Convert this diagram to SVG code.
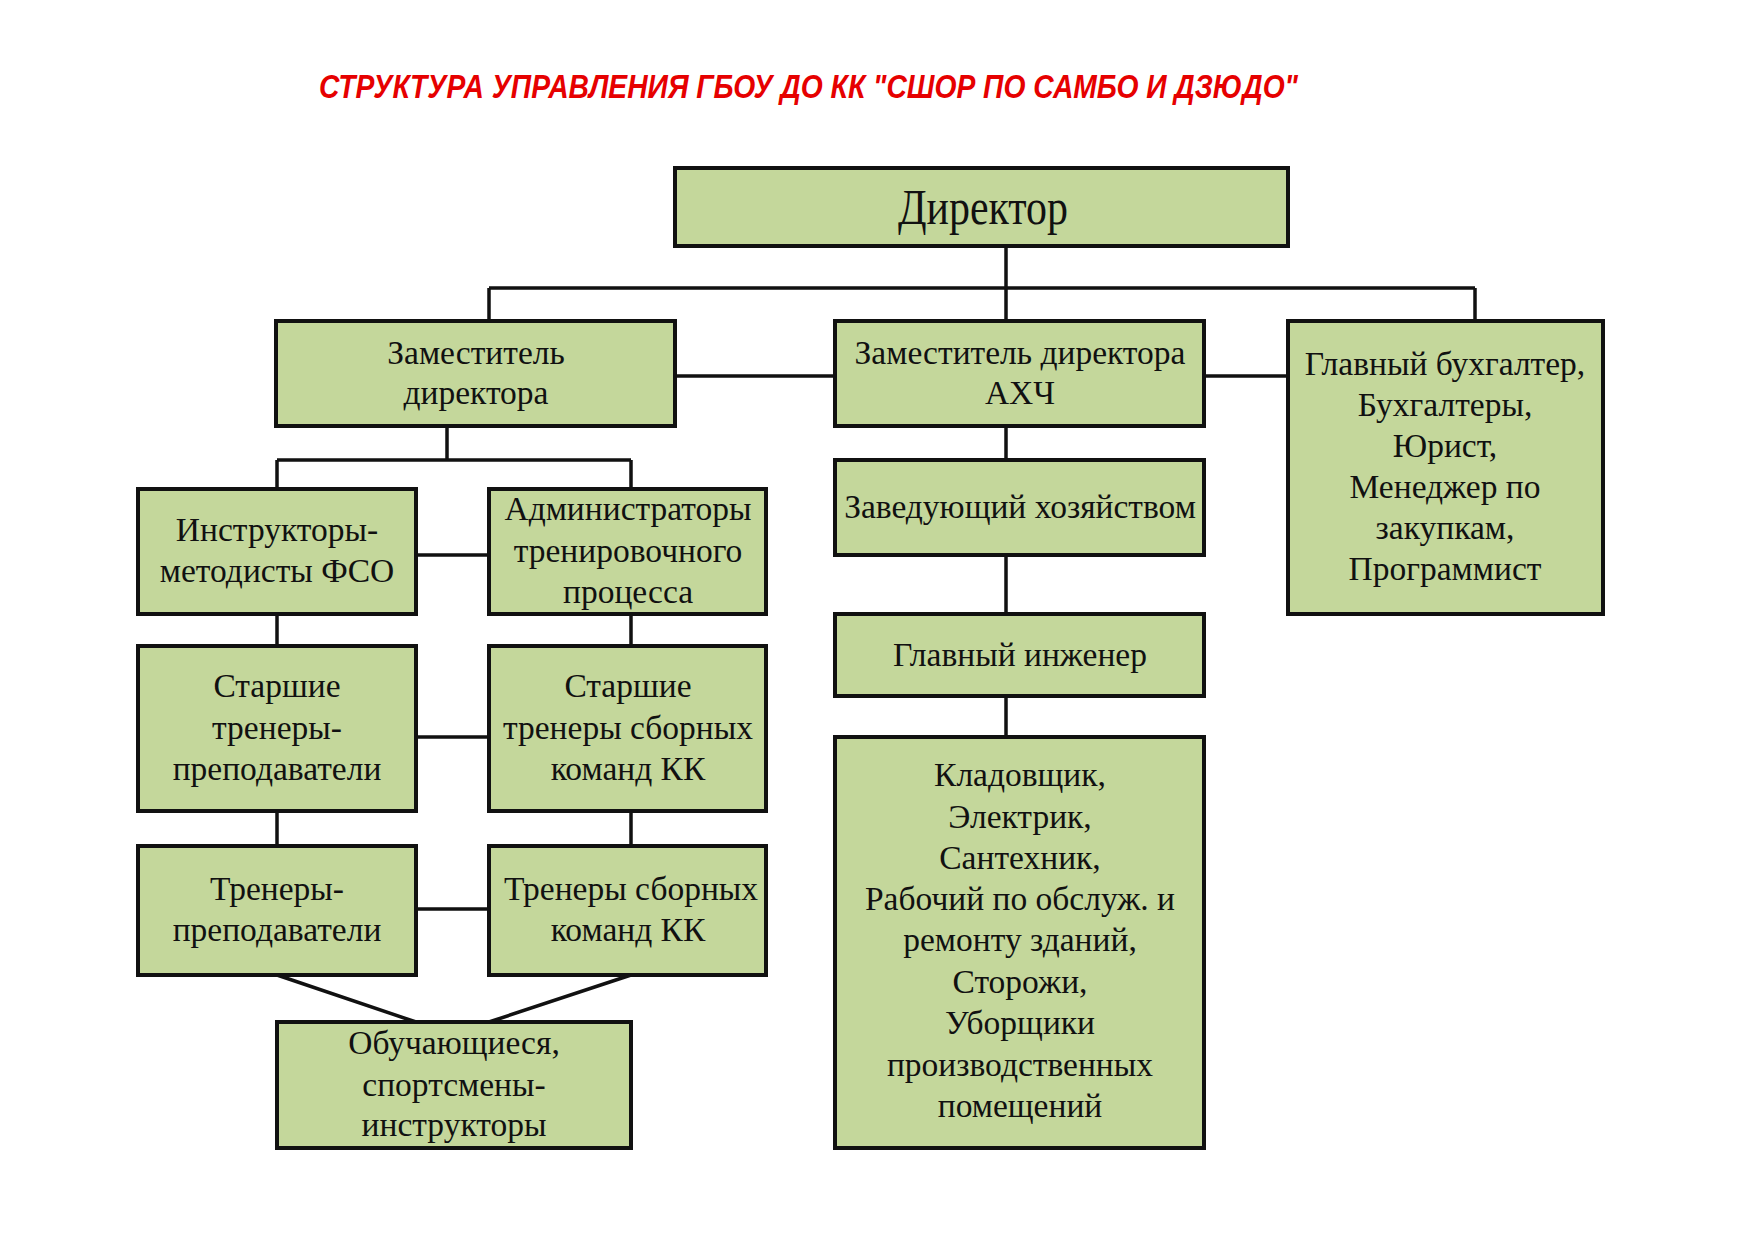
<svg xmlns="http://www.w3.org/2000/svg" width="1755" height="1241" viewBox="0 0 1755 1241">
<style>
.box{fill:#c4d79b;stroke:#111;stroke-width:4}
.t{font-family:"Liberation Serif","Times New Roman",serif;font-size:33.5px;fill:#111;text-anchor:middle}
.big{font-size:50px}
.ln{stroke:#111;stroke-width:3.5;fill:none}
</style>
<rect width="1755" height="1241" fill="#fff"/>
<text x="319" y="98" font-family="Liberation Sans, Arial, sans-serif" font-size="33" font-weight="bold" font-style="italic" fill="#e60000" textLength="979" lengthAdjust="spacingAndGlyphs">СТРУКТУРА УПРАВЛЕНИЯ ГБОУ ДО КК "СШОР ПО САМБО И ДЗЮДО"</text>
<g id="connectors">
<path class="ln" d="M1006 246V321M489 288H1475M489 288V321M1475 288V321"/>
<path class="ln" d="M675 376H835M1204 376H1288"/>
<path class="ln" d="M447 426V460M277 460H631M277 460V489M631 460V489"/>
<path class="ln" d="M416 555H489M277 614V646M631 614V646M416 737H489M277 811V846M631 811V846M416 909H489"/>
<path class="ln" d="M277 975L416 1022M631 975L489 1022"/>
<path class="ln" d="M1006 426V460M1006 555V614M1006 696V737"/>
</g>
<g id="director"><rect class="box" x="675" y="168" width="613" height="78"/><text class="t big" x="983" y="224" textLength="170" lengthAdjust="spacingAndGlyphs">Директор</text></g>
<g id="deputy"><rect class="box" x="276" y="321" width="399" height="105"/><text class="t" x="476" y="364">Заместитель</text><text class="t" x="476" y="404">директора</text></g>
<g id="deputy-ahch"><rect class="box" x="835" y="321" width="369" height="105"/><text class="t" x="1020" y="364">Заместитель директора</text><text class="t" x="1020" y="404">АХЧ</text></g>
<g id="accounting"><rect class="box" x="1288" y="321" width="315" height="293"/>
<text class="t" x="1445" y="375">Главный бухгалтер,</text><text class="t" x="1445" y="416">Бухгалтеры,</text><text class="t" x="1445" y="457">Юрист,</text><text class="t" x="1445" y="498">Менеджер по</text><text class="t" x="1445" y="539">закупкам,</text><text class="t" x="1445" y="580">Программист</text></g>
<g id="instructors"><rect class="box" x="138" y="489" width="278" height="125"/><text class="t" x="277" y="541">Инструкторы-</text><text class="t" x="277" y="582">методисты ФСО</text></g>
<g id="admins"><rect class="box" x="489" y="489" width="277" height="125"/><text class="t" x="628" y="520">Администраторы</text><text class="t" x="628" y="562">тренировочного</text><text class="t" x="628" y="603">процесса</text></g>
<g id="senior-trainers"><rect class="box" x="138" y="646" width="278" height="165"/><text class="t" x="277" y="697">Старшие</text><text class="t" x="277" y="739">тренеры-</text><text class="t" x="277" y="780">преподаватели</text></g>
<g id="senior-team-trainers"><rect class="box" x="489" y="646" width="277" height="165"/><text class="t" x="628" y="697">Старшие</text><text class="t" x="628" y="739">тренеры сборных</text><text class="t" x="628" y="780">команд КК</text></g>
<g id="trainers"><rect class="box" x="138" y="846" width="278" height="129"/><text class="t" x="277" y="900">Тренеры-</text><text class="t" x="277" y="941">преподаватели</text></g>
<g id="team-trainers"><rect class="box" x="489" y="846" width="277" height="129"/><text class="t" x="631" y="900">Тренеры сборных</text><text class="t" x="628" y="941">команд КК</text></g>
<g id="students"><rect class="box" x="277" y="1022" width="354" height="126"/><text class="t" x="454" y="1054">Обучающиеся,</text><text class="t" x="454" y="1096">спортсмены-</text><text class="t" x="454" y="1136">инструкторы</text></g>
<g id="household"><rect class="box" x="835" y="460" width="369" height="95"/><text class="t" x="1020" y="518">Заведующий хозяйством</text></g>
<g id="engineer"><rect class="box" x="835" y="614" width="369" height="82"/><text class="t" x="1020" y="666">Главный инженер</text></g>
<g id="staff"><rect class="box" x="835" y="737" width="369" height="411"/>
<text class="t" x="1020" y="786">Кладовщик,</text><text class="t" x="1020" y="828">Электрик,</text><text class="t" x="1020" y="869">Сантехник,</text><text class="t" x="1020" y="910">Рабочий по обслуж. и</text><text class="t" x="1020" y="951">ремонту зданий,</text><text class="t" x="1020" y="993">Сторожи,</text><text class="t" x="1020" y="1034">Уборщики</text><text class="t" x="1020" y="1076">производственных</text><text class="t" x="1020" y="1117">помещений</text></g>
</svg>
